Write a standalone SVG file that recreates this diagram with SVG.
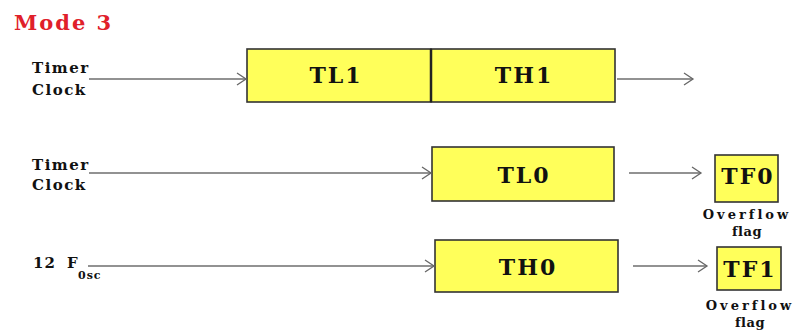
<svg xmlns="http://www.w3.org/2000/svg" width="800" height="331" viewBox="0 0 800 331">
<defs>
<marker id="ch" markerWidth="12" markerHeight="14" refX="10" refY="7" orient="auto" markerUnits="userSpaceOnUse">
<path d="M1,1 L10,7 L1,13" fill="none" stroke="#666" stroke-width="1.3"/>
</marker>
<style>
.box{fill:#ffff5a;stroke:#333;stroke-width:1.6}
.lbl{font-family:"DejaVu Serif","Liberation Serif",serif;font-weight:bold;fill:#111}
.big{font-size:22px;letter-spacing:2px;text-anchor:middle}
.sm{font-size:15px;letter-spacing:1.5px}
.fl{font-size:13px;letter-spacing:3px;text-anchor:middle}
.fg{font-size:13px;letter-spacing:0.5px;text-anchor:middle}
.ln{stroke:#6e6e6e;stroke-width:1.5;fill:none;marker-end:url(#ch)}
</style>
</defs>
<rect width="800" height="331" fill="#fff"/>
<text x="14" y="30" font-family="DejaVu Serif,Liberation Serif,serif" font-weight="bold" font-size="21" letter-spacing="2" fill="#e0202a">Mode 3</text>

<g id="input1">
<text class="lbl sm" x="32" y="73">Timer</text>
<text class="lbl sm" x="32" y="95">Clock</text>
</g>
<g id="tl1"><rect class="box" x="247" y="49" width="184" height="53"/><text class="lbl big" x="336" y="83">TL1</text></g>
<g id="th1"><rect class="box" x="431" y="49" width="184" height="53"/><text class="lbl big" x="524" y="83">TH1</text></g>
<line x1="431" y1="49" x2="431" y2="102" stroke="#222" stroke-width="2.5"/>

<g id="input2">
<text class="lbl sm" x="32" y="170">Timer</text>
<text class="lbl sm" x="32" y="190">Clock</text>
</g>
<g id="tl0"><rect class="box" x="432" y="147" width="182" height="54"/><text class="lbl big" x="524" y="183">TL0</text></g>
<g id="tf0"><rect class="box" x="715" y="155" width="63" height="47"/><text class="lbl big" x="748" y="184" letter-spacing="1">TF0</text>
<text class="lbl fl" x="747" y="219">Overflow</text><text class="lbl fg" x="747" y="236">flag</text></g>

<g id="input3">
<text class="lbl" x="33" y="268" font-size="15" letter-spacing="1" word-spacing="5">12 F</text>
<text class="lbl" x="78" y="279" font-size="11" letter-spacing="1">0sc</text>
</g>
<g id="th0"><rect class="box" x="435" y="240" width="183" height="52"/><text class="lbl big" x="528" y="275">TH0</text></g>
<g id="tf1"><rect class="box" x="717" y="247" width="64" height="43"/><text class="lbl big" x="750" y="277" letter-spacing="1">TF1</text>
<text class="lbl fl" x="750" y="310">Overflow</text><text class="lbl fg" x="750" y="327">flag</text></g>

<g id="connectors">
<line class="ln" x1="89" y1="79" x2="246" y2="79"/>
<line class="ln" x1="617" y1="79" x2="693" y2="79"/>
<line class="ln" x1="89" y1="173" x2="431" y2="173"/>
<line class="ln" x1="629" y1="173" x2="701" y2="173"/>
<line class="ln" x1="88" y1="266" x2="434" y2="266"/>
<line class="ln" x1="633" y1="266" x2="707" y2="266"/>
</g>
</svg>
